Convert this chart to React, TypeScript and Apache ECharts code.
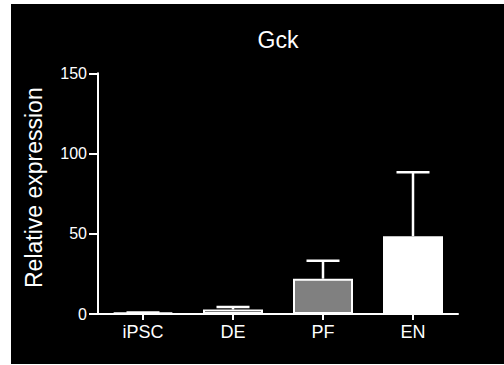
import React, { useEffect, useRef } from "react";
import * as echarts from "echarts";

const categories = ["iPSC", "DE", "PF", "EN"];
const means = [0.8, 2.8, 22, 48.5];
const upperErrors = [0.2, 1.5, 11.2, 39.8];
const barFills = ["#000000", "#000000", "#808080", "#ffffff"];
const yTicks = { min: 0, max: 150, interval: 50 };
const titleText = "Gck";
const yAxisTitle = "Relative expression";

const FONT = "'Liberation Sans', Arial, Helvetica, sans-serif";

export default function App() {
  const ref = useRef<HTMLDivElement>(null);

  useEffect(() => {
    document.body.style.margin = "0";
    if (!ref.current) return;
    const chart = echarts.init(ref.current, null, { renderer: "svg" });

    const barData = means.map((v, i) => ({
      value: v,
      itemStyle: { color: barFills[i] },
    }));
    const errData = means.map((v, i) => [i, v, v + upperErrors[i]]);

    chart.setOption({
      animation: false,
      backgroundColor: "transparent",
      textStyle: { fontFamily: FONT },
      graphic: [
        {
          type: "text",
          x: 278,
          y: 40,
          style: {
            text: titleText,
            fill: "#ffffff",
            font: `23px ${FONT}`,
            fontSize: 23,
            fontFamily: FONT,
            align: "center",
            verticalAlign: "middle",
            textAlign: "center",
            textVerticalAlign: "middle",
          },
        },
      ],
      grid: { left: 98, top: 73.3, bottom: 51, width: 360, containLabel: false },
      xAxis: {
        type: "category",
        data: categories,
        axisLine: { show: true, lineStyle: { color: "#ffffff", width: 2 } },
        axisTick: { show: true, alignWithLabel: true, length: 6, lineStyle: { color: "#ffffff", width: 2 } },
        axisLabel: { color: "#ffffff", fontSize: 18, margin: 9, fontFamily: FONT },
        splitLine: { show: false },
      },
      yAxis: {
        type: "value",
        min: yTicks.min,
        max: yTicks.max,
        interval: yTicks.interval,
        name: yAxisTitle,
        nameLocation: "middle",
        nameGap: 53,
        nameTextStyle: { color: "#ffffff", fontSize: 23, fontFamily: FONT, padding: [0, 0, 0, 12] },
        axisLine: { show: true, lineStyle: { color: "#ffffff", width: 2 } },
        axisTick: { show: true, length: 9, lineStyle: { color: "#ffffff", width: 2 } },
        axisLabel: { color: "#ffffff", fontSize: 16, margin: 11, fontFamily: FONT },
        splitLine: { show: false },
      },
      series: [
        {
          type: "bar",
          data: barData,
          barWidth: 60,
          itemStyle: { borderColor: "#ffffff", borderWidth: 2 },
          z: 2,
        },
        {
          type: "custom",
          data: errData,
          z: 3,
          renderItem: (params: any, api: any) => {
            const idx = api.value(0);
            const p0 = api.coord([idx, api.value(1)]);
            const p1 = api.coord([idx, api.value(2)]);
            const half = 16.5;
            const style = { stroke: "#ffffff", lineWidth: 2.5 };
            return {
              type: "group",
              children: [
                { type: "line", shape: { x1: p0[0], y1: p0[1], x2: p1[0], y2: p1[1] }, style },
                { type: "line", shape: { x1: p1[0] - half, y1: p1[1], x2: p1[0] + half, y2: p1[1] }, style },
              ],
            };
          },
        },
      ],
    });

    return () => chart.dispose();
  }, []);

  return (
    <div style={{ position: "relative", width: 504, height: 365, background: "#ffffff" }}>
      <div style={{ position: "absolute", left: 11, top: 4, width: 493, height: 360, background: "#000000" }} />
      <div ref={ref} style={{ position: "absolute", left: 0, top: 0, width: 504, height: 365 }} />
    </div>
  );
}
